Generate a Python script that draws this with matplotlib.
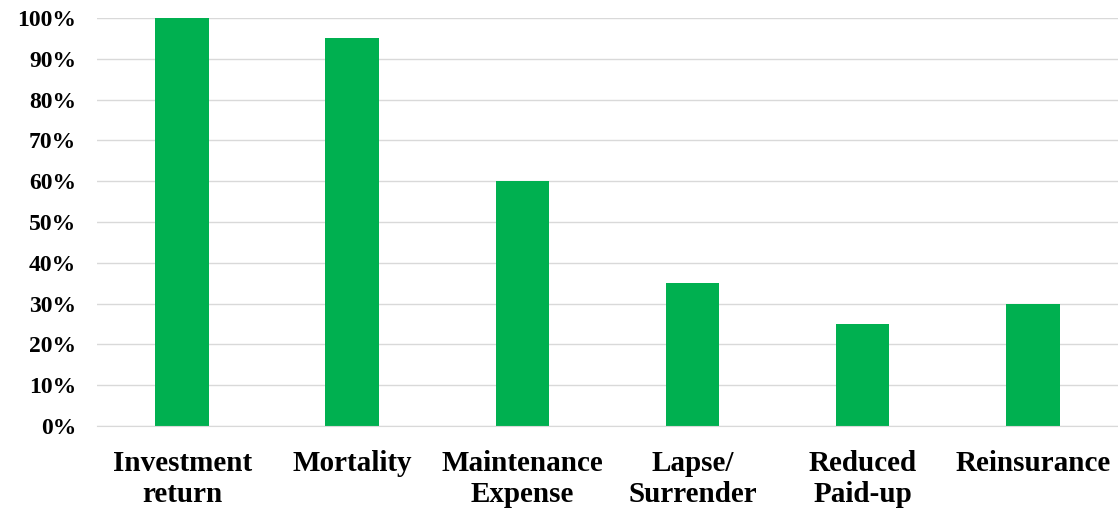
import numpy as np
import matplotlib.pyplot as plt
from matplotlib.ticker import PercentFormatter

categories = ["Investment\nreturn", "Mortality", "Maintenance\nExpense",
              "Lapse/\nSurrender", "Reduced\nPaid-up", "Reinsurance"]
values = [1.00, 0.95, 0.60, 0.35, 0.25, 0.30]
yticks = np.arange(0, 1.01, 0.1)

plt.rcParams['font.family'] = ['Liberation Serif', 'DejaVu Serif']
plt.rcParams['font.weight'] = 'bold'

fig = plt.figure(figsize=(11.18, 5.09), dpi=100)
ax = fig.add_axes([0.0868, 0.163, 0.913, 0.8017])

x = np.arange(len(categories))
ax.bar(x, values, width=0.315, color="#00B050", zorder=3)

ax.set_xlim(-0.5, len(categories) - 0.5)
ax.set_ylim(0, 1.0)
ax.set_yticks(yticks)
ax.yaxis.set_major_formatter(PercentFormatter(1.0, decimals=0))
ax.set_xticks(x)
ax.set_xticklabels(categories, fontsize=21, fontweight='bold', linespacing=1.2)
ax.tick_params(axis='y', labelsize=17, length=0, pad=15)
ax.tick_params(axis='x', length=0, pad=17)
for lbl in ax.get_yticklabels():
    lbl.set_fontweight('bold')

ax.grid(axis='y', color="#D9D9D9", linewidth=1, zorder=0)
for side in ['top', 'right', 'left']:
    ax.spines[side].set_visible(False)
ax.spines['bottom'].set_color("#D9D9D9")
ax.spines['bottom'].set_zorder(4)

fig.savefig("out.png", dpi=100)
